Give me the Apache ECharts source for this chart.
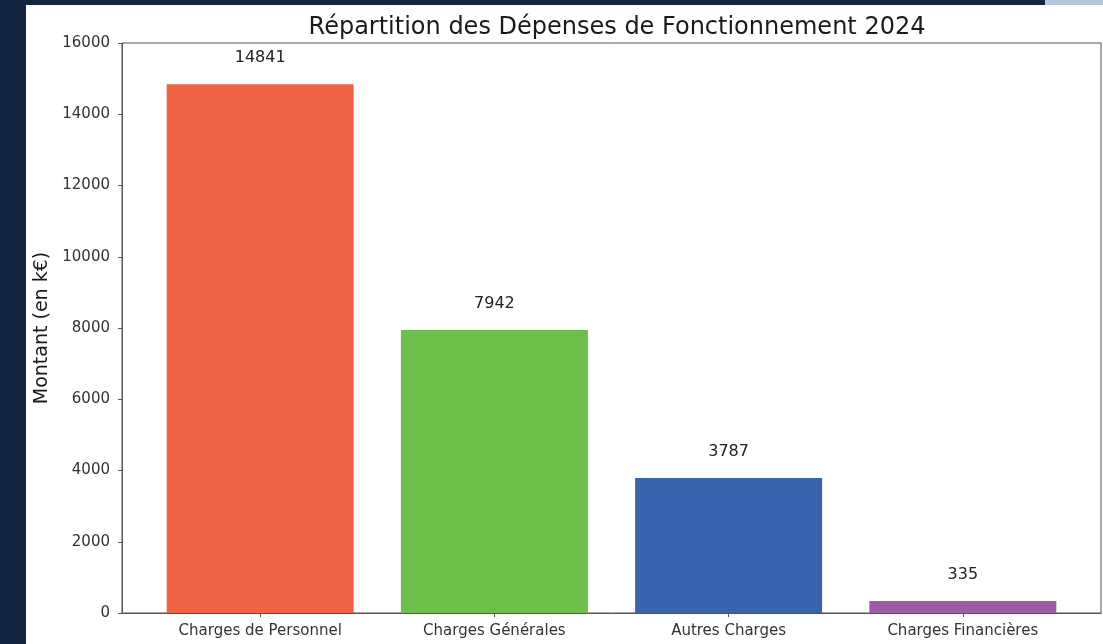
<!DOCTYPE html>
<html>
<head>
<meta charset="utf-8">
<script src="https://cdn.jsdelivr.net/npm/echarts@6/dist/echarts.min.js"></script>
<style>
html,body{margin:0;padding:0;background:#13253F;}
#c{width:1103px;height:644px;}
</style>
</head>
<body>
<div id="c"></div>
<script>
const categories = ["Charges de Personnel", "Charges Générales", "Autres Charges", "Charges Financières"];
const values = [14841, 7942, 3787, 335];
const colors = ["#F06445", "#6DBE4B", "#3864AE", "#9E5CA8"];
const yTicks = [0, 2000, 4000, 6000, 8000, 10000, 12000, 14000, 16000];

const chart = echarts.init(document.getElementById('c'), null, {renderer: 'canvas'});
const font = '"DejaVu Sans", sans-serif';
const positions = categories.map((_, i) => i);

chart.setOption({
  backgroundColor: '#13253F',
  animation: false,
  graphic: [
    {type: 'rect', left: 26, top: 5, shape: {width: 1077, height: 639}, style: {fill: '#ffffff'}, z: -10},
    {type: 'rect', left: 1045, top: 0, shape: {width: 58, height: 5}, style: {fill: '#B8C8DC'}, z: -10}
  ],
  title: {
    text: 'Répartition des Dépenses de Fonctionnement 2024',
    left: 612,
    top: 11,
    textAlign: 'center',
    textStyle: {fontFamily: font, fontSize: 24, fontWeight: 'normal', color: '#1a1a1a'}
  },
  grid: {left: 122, top: 43, right: 2, bottom: 31, show: true, borderColor: '#555', borderWidth: 1, backgroundColor: 'transparent'},
  xAxis: {
    type: 'value',
    min: -0.59,
    max: 3.59,
    splitLine: {show: false},
    axisLine: {show: true, onZero: false, lineStyle: {color: '#555'}},
    axisTick: {show: true, length: 4, customValues: positions, lineStyle: {color: '#555'}},
    axisLabel: {
      customValues: positions,
      margin: 11,
      fontFamily: font, fontSize: 15, color: '#333',
      formatter: v => categories[Math.round(v)]
    }
  },
  yAxis: {
    type: 'value',
    min: 0,
    max: 16000,
    interval: 2000,
    name: 'Montant (en k€)',
    nameLocation: 'middle',
    nameGap: 67,
    nameTextStyle: {fontFamily: font, fontSize: 19, color: '#1a1a1a'},
    splitLine: {show: false},
    axisLine: {show: true, onZero: false, lineStyle: {color: '#555'}},
    axisTick: {show: true, length: 4, lineStyle: {color: '#555'}},
    axisLabel: {margin: 12, fontFamily: font, fontSize: 15, color: '#333', formatter: v => String(v)}
  },
  series: [{
    type: 'bar',
    barWidth: 187,
    data: values.map((v, i) => ({value: [i, v], itemStyle: {color: colors[i]}})),
    label: {
      show: true,
      position: 'top',
      distance: 18,
      fontFamily: font, fontSize: 16, color: '#222',
      formatter: p => p.value[1]
    }
  }]
});
</script>
</body>
</html>
